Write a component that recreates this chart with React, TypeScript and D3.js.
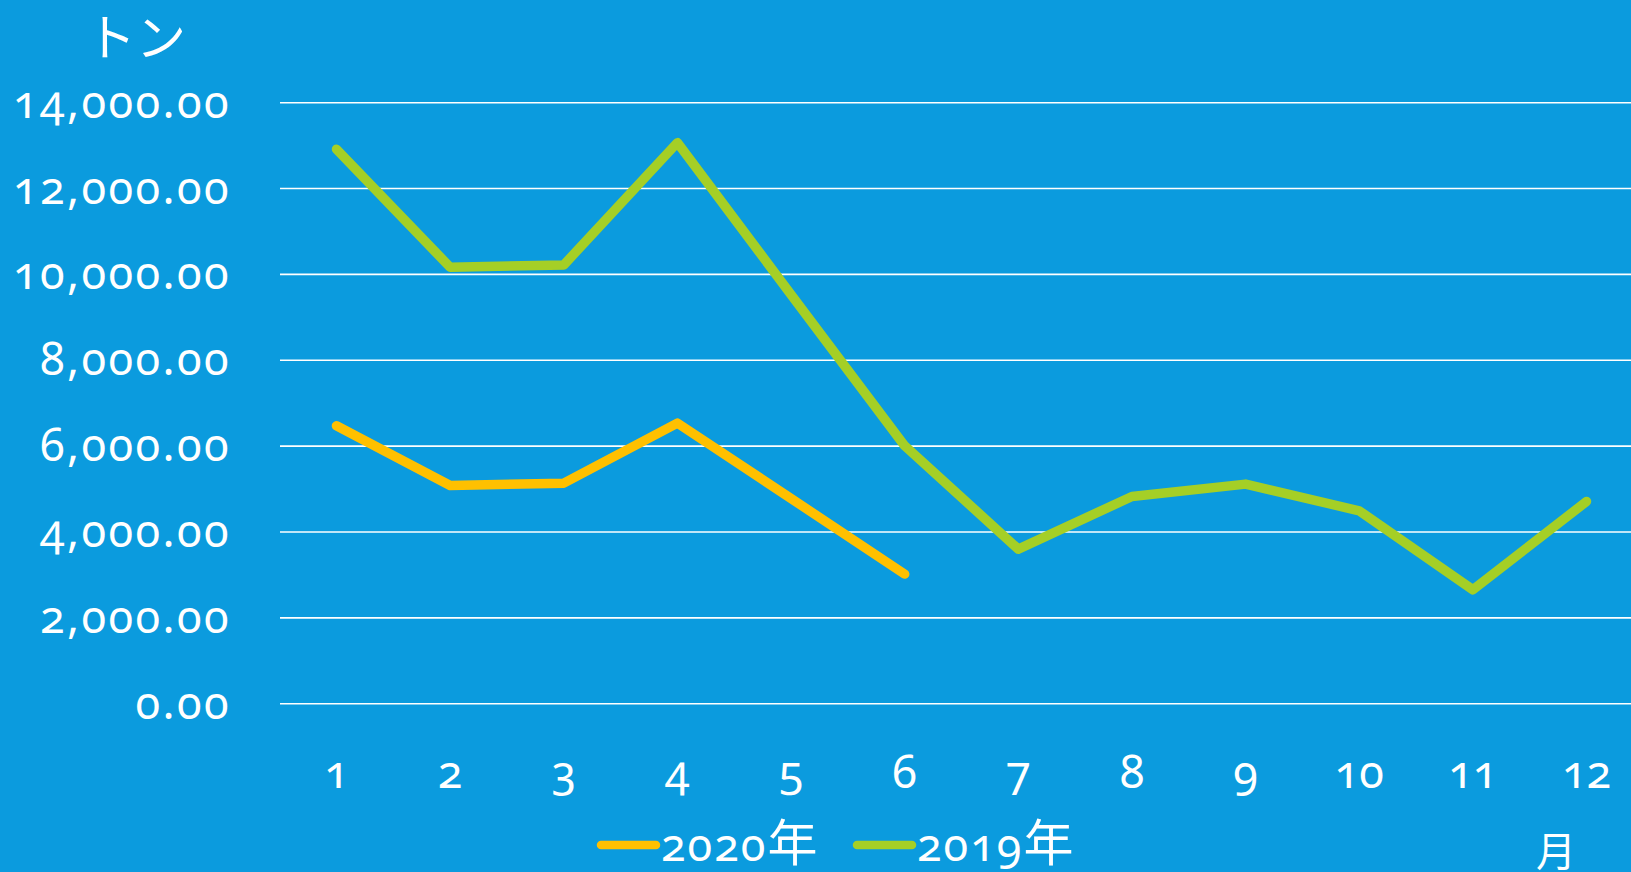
import React from "react";
import * as d3 from "d3";

const months = ["1", "2", "3", "4", "5", "6", "7", "8", "9", "10", "11", "12"];
const series2020 = [6473, 5083, 5138, 6535, 4780, 3019];
const series2019 = [12915, 10168, 10221, 13070, 9530, 6007, 3601, 4827, 5115, 4494, 2654, 4710];
const yTicks = [0, 2000, 4000, 6000, 8000, 10000, 12000, 14000];
const seriesNames = ["2020年", "2019年"];
const yTitle = "トン";
const xTitle = "月";

const W = 1631;
const H = 872;
const BG = "#0B9BDE";
const ORANGE = "#FFC000";
const GREEN = "#A5CF26";
const FONT = "'Noto Sans', 'Noto Sans CJK JP', sans-serif";
const CJK = "'Noto Sans CJK JP', sans-serif";

export default function App() {
  const x = d3.scalePoint<string>().domain(months).range([336.5, 1586.5]);
  const y = d3.scaleLinear().domain([0, 14000]).range([703.7, 102.7]);
  const fmt = d3.format(",.2f");
  const line = d3
    .line<number>()
    .x((_, i) => x(months[i]) as number)
    .y((d) => y(d));

  const legend = (x0: number, color: string, name: string) => {
    const digits = name.slice(0, -1);
    const suffix = name.slice(-1);
    return (
      <g>
        <line x1={x0} x2={x0 + 55} y1={845} y2={845} stroke={color} strokeWidth={8.5} strokeLinecap="round" />
        <text
          x={x0 + 60}
          y={861}
          fill="#FFFFFF"
          fontSize={45}
          letterSpacing={2}
          style={{ fontVariantNumeric: "oldstyle-nums" }}
        >
          {digits}
          <tspan fontFamily={CJK} fontSize={50} letterSpacing={0}>
            {suffix}
          </tspan>
        </text>
      </g>
    );
  };

  return (
    <svg
      width={W}
      height={H}
      style={{ position: "absolute", left: 0, top: 0, display: "block" }}
      fontFamily={FONT}
    >
      <rect x={0} y={0} width={W} height={H} fill={BG} />
      {yTicks.map((t) => (
        <g key={t}>
          <line x1={280} x2={W} y1={y(t)} y2={y(t)} stroke="#FFFFFF" strokeWidth={1.6} />
          <text
            x={231}
            y={y(t) + 15}
            textAnchor="end"
            fill="#FFFFFF"
            fontSize={45}
            letterSpacing={2.4}
            style={{ fontVariantNumeric: "oldstyle-nums" }}
          >
            {fmt(t)}
          </text>
        </g>
      ))}
      {months.map((m) => (
        <text
          key={m}
          x={x(m)}
          y={788}
          textAnchor="middle"
          fill="#FFFFFF"
          fontSize={45}
          style={{ fontVariantNumeric: "oldstyle-nums" }}
        >
          {m}
        </text>
      ))}
      <path
        d={line(series2019) || ""}
        fill="none"
        stroke={GREEN}
        strokeWidth={9.5}
        strokeLinecap="round"
        strokeLinejoin="round"
      />
      <path
        d={line(series2020) || ""}
        fill="none"
        stroke={ORANGE}
        strokeWidth={9.5}
        strokeLinecap="round"
        strokeLinejoin="round"
      />
      <text x={136} y={56} textAnchor="middle" fill="#FFFFFF" fontSize={50} fontFamily={CJK}>
        {yTitle}
      </text>
      <text x={1556} y={866} textAnchor="middle" fill="#FFFFFF" fontSize={40} fontFamily={CJK}>
        {xTitle}
      </text>
      {legend(601, ORANGE, seriesNames[0])}
      {legend(857, GREEN, seriesNames[1])}
    </svg>
  );
}
